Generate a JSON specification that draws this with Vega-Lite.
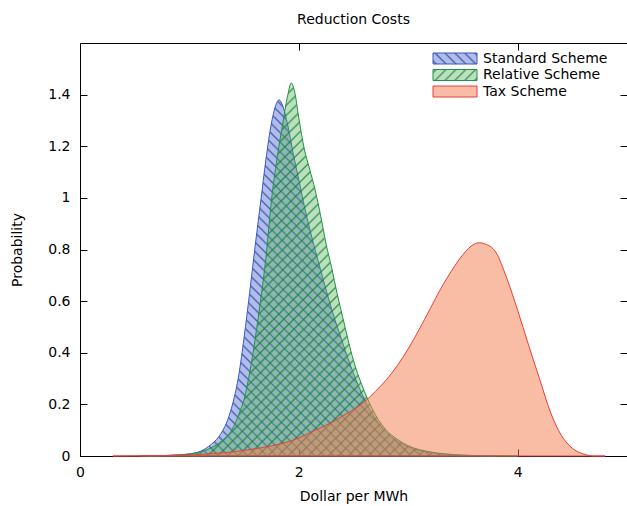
{
 "$schema": "https://vega.github.io/schema/vega-lite/v6.json",
 "width": 547, "height": 413,
 "autosize": {"type": "none"},
 "padding": {"left": 80, "top": 43, "right": 0, "bottom": 50},
 "title": {"text": "Reduction Costs", "fontSize": 14, "fontWeight": "normal", "font": "DejaVu Sans", "color": "black", "anchor": "middle", "frame": "group", "offset": 5, "baseline": "alphabetic"},
 "config": {
  "view": {"stroke": "black", "strokeWidth": 1},
  "axis": {"grid": false, "domain": false, "labelFont": "DejaVu Sans", "labelFontSize": 14, "labelColor": "black", "titleFont": "DejaVu Sans", "titleFontSize": 14, "titleFontWeight": "normal", "titleColor": "black", "tickColor": "black", "tickSize": -7, "tickWidth": 1}
 },
 "datasets": {"curves": [
  {"scheme":"Standard Scheme","x":0.55,"y":0},{"scheme":"Standard Scheme","x":0.7,"y":0.001},{"scheme":"Standard Scheme","x":0.85,"y":0.003},{"scheme":"Standard Scheme","x":1.0,"y":0.008},{"scheme":"Standard Scheme","x":1.1,"y":0.018},{"scheme":"Standard Scheme","x":1.2,"y":0.045},{"scheme":"Standard Scheme","x":1.25,"y":0.065},{"scheme":"Standard Scheme","x":1.3,"y":0.095},{"scheme":"Standard Scheme","x":1.35,"y":0.14},{"scheme":"Standard Scheme","x":1.4,"y":0.21},{"scheme":"Standard Scheme","x":1.45,"y":0.31},{"scheme":"Standard Scheme","x":1.5,"y":0.46},{"scheme":"Standard Scheme","x":1.55,"y":0.63},{"scheme":"Standard Scheme","x":1.6,"y":0.81},{"scheme":"Standard Scheme","x":1.65,"y":0.98},{"scheme":"Standard Scheme","x":1.7,"y":1.15},{"scheme":"Standard Scheme","x":1.75,"y":1.29},{"scheme":"Standard Scheme","x":1.8,"y":1.37},{"scheme":"Standard Scheme","x":1.82,"y":1.38},{"scheme":"Standard Scheme","x":1.85,"y":1.36},{"scheme":"Standard Scheme","x":1.9,"y":1.28},{"scheme":"Standard Scheme","x":1.95,"y":1.17},{"scheme":"Standard Scheme","x":2.0,"y":1.07},{"scheme":"Standard Scheme","x":2.05,"y":0.97},{"scheme":"Standard Scheme","x":2.1,"y":0.88},{"scheme":"Standard Scheme","x":2.2,"y":0.72},{"scheme":"Standard Scheme","x":2.3,"y":0.57},{"scheme":"Standard Scheme","x":2.4,"y":0.44},{"scheme":"Standard Scheme","x":2.5,"y":0.32},{"scheme":"Standard Scheme","x":2.6,"y":0.22},{"scheme":"Standard Scheme","x":2.7,"y":0.145},{"scheme":"Standard Scheme","x":2.8,"y":0.092},{"scheme":"Standard Scheme","x":2.9,"y":0.058},{"scheme":"Standard Scheme","x":3.0,"y":0.036},{"scheme":"Standard Scheme","x":3.2,"y":0.014},{"scheme":"Standard Scheme","x":3.4,"y":0.005},{"scheme":"Standard Scheme","x":3.6,"y":0.0015},{"scheme":"Standard Scheme","x":3.8,"y":0},
  {"scheme":"Relative Scheme","x":0.6,"y":0},{"scheme":"Relative Scheme","x":0.8,"y":0.002},{"scheme":"Relative Scheme","x":0.9,"y":0.004},{"scheme":"Relative Scheme","x":1.0,"y":0.008},{"scheme":"Relative Scheme","x":1.1,"y":0.016},{"scheme":"Relative Scheme","x":1.2,"y":0.032},{"scheme":"Relative Scheme","x":1.3,"y":0.06},{"scheme":"Relative Scheme","x":1.4,"y":0.11},{"scheme":"Relative Scheme","x":1.45,"y":0.16},{"scheme":"Relative Scheme","x":1.5,"y":0.22},{"scheme":"Relative Scheme","x":1.55,"y":0.32},{"scheme":"Relative Scheme","x":1.6,"y":0.45},{"scheme":"Relative Scheme","x":1.65,"y":0.6},{"scheme":"Relative Scheme","x":1.7,"y":0.77},{"scheme":"Relative Scheme","x":1.75,"y":0.99},{"scheme":"Relative Scheme","x":1.8,"y":1.15},{"scheme":"Relative Scheme","x":1.85,"y":1.28},{"scheme":"Relative Scheme","x":1.9,"y":1.4},{"scheme":"Relative Scheme","x":1.93,"y":1.445},{"scheme":"Relative Scheme","x":1.96,"y":1.415},{"scheme":"Relative Scheme","x":2.0,"y":1.31},{"scheme":"Relative Scheme","x":2.05,"y":1.19},{"scheme":"Relative Scheme","x":2.1,"y":1.11},{"scheme":"Relative Scheme","x":2.15,"y":1.03},{"scheme":"Relative Scheme","x":2.2,"y":0.93},{"scheme":"Relative Scheme","x":2.25,"y":0.82},{"scheme":"Relative Scheme","x":2.3,"y":0.73},{"scheme":"Relative Scheme","x":2.35,"y":0.63},{"scheme":"Relative Scheme","x":2.4,"y":0.54},{"scheme":"Relative Scheme","x":2.5,"y":0.37},{"scheme":"Relative Scheme","x":2.6,"y":0.25},{"scheme":"Relative Scheme","x":2.7,"y":0.16},{"scheme":"Relative Scheme","x":2.8,"y":0.1},{"scheme":"Relative Scheme","x":2.9,"y":0.065},{"scheme":"Relative Scheme","x":3.0,"y":0.04},{"scheme":"Relative Scheme","x":3.2,"y":0.016},{"scheme":"Relative Scheme","x":3.4,"y":0.006},{"scheme":"Relative Scheme","x":3.6,"y":0.002},{"scheme":"Relative Scheme","x":3.8,"y":0.0005},{"scheme":"Relative Scheme","x":4.0,"y":0},
  {"scheme":"Tax Scheme","x":0.3,"y":0},{"scheme":"Tax Scheme","x":0.6,"y":0.001},{"scheme":"Tax Scheme","x":0.9,"y":0.003},{"scheme":"Tax Scheme","x":1.1,"y":0.006},{"scheme":"Tax Scheme","x":1.3,"y":0.012},{"scheme":"Tax Scheme","x":1.5,"y":0.022},{"scheme":"Tax Scheme","x":1.7,"y":0.035},{"scheme":"Tax Scheme","x":1.9,"y":0.055},{"scheme":"Tax Scheme","x":2.0,"y":0.07},{"scheme":"Tax Scheme","x":2.1,"y":0.09},{"scheme":"Tax Scheme","x":2.2,"y":0.11},{"scheme":"Tax Scheme","x":2.3,"y":0.13},{"scheme":"Tax Scheme","x":2.4,"y":0.155},{"scheme":"Tax Scheme","x":2.5,"y":0.18},{"scheme":"Tax Scheme","x":2.6,"y":0.21},{"scheme":"Tax Scheme","x":2.7,"y":0.25},{"scheme":"Tax Scheme","x":2.8,"y":0.295},{"scheme":"Tax Scheme","x":2.9,"y":0.35},{"scheme":"Tax Scheme","x":3.0,"y":0.415},{"scheme":"Tax Scheme","x":3.1,"y":0.49},{"scheme":"Tax Scheme","x":3.2,"y":0.57},{"scheme":"Tax Scheme","x":3.3,"y":0.65},{"scheme":"Tax Scheme","x":3.4,"y":0.72},{"scheme":"Tax Scheme","x":3.5,"y":0.78},{"scheme":"Tax Scheme","x":3.6,"y":0.82},{"scheme":"Tax Scheme","x":3.65,"y":0.826},{"scheme":"Tax Scheme","x":3.7,"y":0.822},{"scheme":"Tax Scheme","x":3.8,"y":0.79},{"scheme":"Tax Scheme","x":3.9,"y":0.69},{"scheme":"Tax Scheme","x":4.0,"y":0.565},{"scheme":"Tax Scheme","x":4.1,"y":0.43},{"scheme":"Tax Scheme","x":4.2,"y":0.3},{"scheme":"Tax Scheme","x":4.3,"y":0.17},{"scheme":"Tax Scheme","x":4.4,"y":0.08},{"scheme":"Tax Scheme","x":4.5,"y":0.03},{"scheme":"Tax Scheme","x":4.6,"y":0.008},{"scheme":"Tax Scheme","x":4.7,"y":0},{"scheme":"Tax Scheme","x":4.8,"y":0}
 ]},
 "data": {"name": "curves"},
 "resolve": {"axis": {"x": "independent", "y": "independent"}},
 "layer": [
  {
   "transform": [{"filter": "datum.scheme === 'Standard Scheme'"}],
   "mark": {"type": "area", "interpolate": "monotone", "stroke": "#3a58c0", "strokeWidth": 1,
    "fill": {"gradient": "linear", "x1": 0, "y1": 1, "x2": 1, "y2": 0, "stops": [
{"offset":0,"color":"#3e58c666"},{"offset":0.0028,"color":"#2346aad9"},{"offset":0.0056,"color":"#3e58c666"},
{"offset":0.0135,"color":"#3e58c666"},{"offset":0.0163,"color":"#2346aad9"},{"offset":0.0191,"color":"#3e58c666"},
{"offset":0.027,"color":"#3e58c666"},{"offset":0.0298,"color":"#2346aad9"},{"offset":0.0326,"color":"#3e58c666"},
{"offset":0.0405,"color":"#3e58c666"},{"offset":0.0433,"color":"#2346aad9"},{"offset":0.0461,"color":"#3e58c666"},
{"offset":0.054,"color":"#3e58c666"},{"offset":0.0568,"color":"#2346aad9"},{"offset":0.0596,"color":"#3e58c666"},
{"offset":0.0675,"color":"#3e58c666"},{"offset":0.0703,"color":"#2346aad9"},{"offset":0.0731,"color":"#3e58c666"},
{"offset":0.081,"color":"#3e58c666"},{"offset":0.0838,"color":"#2346aad9"},{"offset":0.0866,"color":"#3e58c666"},
{"offset":0.0945,"color":"#3e58c666"},{"offset":0.0973,"color":"#2346aad9"},{"offset":0.1001,"color":"#3e58c666"},
{"offset":0.108,"color":"#3e58c666"},{"offset":0.1108,"color":"#2346aad9"},{"offset":0.1136,"color":"#3e58c666"},
{"offset":0.1215,"color":"#3e58c666"},{"offset":0.1243,"color":"#2346aad9"},{"offset":0.1271,"color":"#3e58c666"},
{"offset":0.135,"color":"#3e58c666"},{"offset":0.1378,"color":"#2346aad9"},{"offset":0.1406,"color":"#3e58c666"},
{"offset":0.1485,"color":"#3e58c666"},{"offset":0.1513,"color":"#2346aad9"},{"offset":0.1541,"color":"#3e58c666"},
{"offset":0.162,"color":"#3e58c666"},{"offset":0.1648,"color":"#2346aad9"},{"offset":0.1676,"color":"#3e58c666"},
{"offset":0.1755,"color":"#3e58c666"},{"offset":0.1783,"color":"#2346aad9"},{"offset":0.1811,"color":"#3e58c666"},
{"offset":0.189,"color":"#3e58c666"},{"offset":0.1918,"color":"#2346aad9"},{"offset":0.1946,"color":"#3e58c666"},
{"offset":0.2025,"color":"#3e58c666"},{"offset":0.2053,"color":"#2346aad9"},{"offset":0.2081,"color":"#3e58c666"},
{"offset":0.216,"color":"#3e58c666"},{"offset":0.2188,"color":"#2346aad9"},{"offset":0.2216,"color":"#3e58c666"},
{"offset":0.2295,"color":"#3e58c666"},{"offset":0.2323,"color":"#2346aad9"},{"offset":0.2351,"color":"#3e58c666"},
{"offset":0.243,"color":"#3e58c666"},{"offset":0.2458,"color":"#2346aad9"},{"offset":0.2486,"color":"#3e58c666"},
{"offset":0.2565,"color":"#3e58c666"},{"offset":0.2593,"color":"#2346aad9"},{"offset":0.2621,"color":"#3e58c666"},
{"offset":0.27,"color":"#3e58c666"},{"offset":0.2728,"color":"#2346aad9"},{"offset":0.2756,"color":"#3e58c666"},
{"offset":0.2835,"color":"#3e58c666"},{"offset":0.2863,"color":"#2346aad9"},{"offset":0.2891,"color":"#3e58c666"},
{"offset":0.297,"color":"#3e58c666"},{"offset":0.2998,"color":"#2346aad9"},{"offset":0.3026,"color":"#3e58c666"},
{"offset":0.3105,"color":"#3e58c666"},{"offset":0.3133,"color":"#2346aad9"},{"offset":0.3161,"color":"#3e58c666"},
{"offset":0.324,"color":"#3e58c666"},{"offset":0.3268,"color":"#2346aad9"},{"offset":0.3296,"color":"#3e58c666"},
{"offset":0.3375,"color":"#3e58c666"},{"offset":0.3403,"color":"#2346aad9"},{"offset":0.3431,"color":"#3e58c666"},
{"offset":0.351,"color":"#3e58c666"},{"offset":0.3538,"color":"#2346aad9"},{"offset":0.3566,"color":"#3e58c666"},
{"offset":0.3645,"color":"#3e58c666"},{"offset":0.3673,"color":"#2346aad9"},{"offset":0.3701,"color":"#3e58c666"},
{"offset":0.378,"color":"#3e58c666"},{"offset":0.3808,"color":"#2346aad9"},{"offset":0.3836,"color":"#3e58c666"},
{"offset":0.3915,"color":"#3e58c666"},{"offset":0.3943,"color":"#2346aad9"},{"offset":0.3971,"color":"#3e58c666"},
{"offset":0.405,"color":"#3e58c666"},{"offset":0.4078,"color":"#2346aad9"},{"offset":0.4106,"color":"#3e58c666"},
{"offset":0.4185,"color":"#3e58c666"},{"offset":0.4213,"color":"#2346aad9"},{"offset":0.4241,"color":"#3e58c666"},
{"offset":0.432,"color":"#3e58c666"},{"offset":0.4348,"color":"#2346aad9"},{"offset":0.4376,"color":"#3e58c666"},
{"offset":0.4455,"color":"#3e58c666"},{"offset":0.4483,"color":"#2346aad9"},{"offset":0.4511,"color":"#3e58c666"},
{"offset":0.459,"color":"#3e58c666"},{"offset":0.4618,"color":"#2346aad9"},{"offset":0.4646,"color":"#3e58c666"},
{"offset":0.4725,"color":"#3e58c666"},{"offset":0.4753,"color":"#2346aad9"},{"offset":0.4781,"color":"#3e58c666"},
{"offset":0.486,"color":"#3e58c666"},{"offset":0.4888,"color":"#2346aad9"},{"offset":0.4916,"color":"#3e58c666"},
{"offset":0.4995,"color":"#3e58c666"},{"offset":0.5023,"color":"#2346aad9"},{"offset":0.5051,"color":"#3e58c666"},
{"offset":0.513,"color":"#3e58c666"},{"offset":0.5158,"color":"#2346aad9"},{"offset":0.5186,"color":"#3e58c666"},
{"offset":0.5265,"color":"#3e58c666"},{"offset":0.5293,"color":"#2346aad9"},{"offset":0.5321,"color":"#3e58c666"},
{"offset":0.54,"color":"#3e58c666"},{"offset":0.5428,"color":"#2346aad9"},{"offset":0.5456,"color":"#3e58c666"},
{"offset":0.5535,"color":"#3e58c666"},{"offset":0.5563,"color":"#2346aad9"},{"offset":0.5591,"color":"#3e58c666"},
{"offset":0.567,"color":"#3e58c666"},{"offset":0.5698,"color":"#2346aad9"},{"offset":0.5726,"color":"#3e58c666"},
{"offset":0.5805,"color":"#3e58c666"},{"offset":0.5833,"color":"#2346aad9"},{"offset":0.5861,"color":"#3e58c666"},
{"offset":0.594,"color":"#3e58c666"},{"offset":0.5968,"color":"#2346aad9"},{"offset":0.5996,"color":"#3e58c666"},
{"offset":0.6075,"color":"#3e58c666"},{"offset":0.6103,"color":"#2346aad9"},{"offset":0.6131,"color":"#3e58c666"},
{"offset":0.621,"color":"#3e58c666"},{"offset":0.6238,"color":"#2346aad9"},{"offset":0.6266,"color":"#3e58c666"},
{"offset":0.6345,"color":"#3e58c666"},{"offset":0.6373,"color":"#2346aad9"},{"offset":0.6401,"color":"#3e58c666"},
{"offset":0.648,"color":"#3e58c666"},{"offset":0.6508,"color":"#2346aad9"},{"offset":0.6536,"color":"#3e58c666"},
{"offset":0.6615,"color":"#3e58c666"},{"offset":0.6643,"color":"#2346aad9"},{"offset":0.6671,"color":"#3e58c666"},
{"offset":0.675,"color":"#3e58c666"},{"offset":0.6778,"color":"#2346aad9"},{"offset":0.6806,"color":"#3e58c666"},
{"offset":0.6885,"color":"#3e58c666"},{"offset":0.6913,"color":"#2346aad9"},{"offset":0.6941,"color":"#3e58c666"},
{"offset":0.702,"color":"#3e58c666"},{"offset":0.7048,"color":"#2346aad9"},{"offset":0.7076,"color":"#3e58c666"},
{"offset":0.7155,"color":"#3e58c666"},{"offset":0.7183,"color":"#2346aad9"},{"offset":0.7211,"color":"#3e58c666"},
{"offset":0.729,"color":"#3e58c666"},{"offset":0.7318,"color":"#2346aad9"},{"offset":0.7346,"color":"#3e58c666"},
{"offset":0.7425,"color":"#3e58c666"},{"offset":0.7453,"color":"#2346aad9"},{"offset":0.7481,"color":"#3e58c666"},
{"offset":0.756,"color":"#3e58c666"},{"offset":0.7588,"color":"#2346aad9"},{"offset":0.7616,"color":"#3e58c666"},
{"offset":0.7695,"color":"#3e58c666"},{"offset":0.7723,"color":"#2346aad9"},{"offset":0.7751,"color":"#3e58c666"},
{"offset":0.783,"color":"#3e58c666"},{"offset":0.7858,"color":"#2346aad9"},{"offset":0.7886,"color":"#3e58c666"},
{"offset":0.7965,"color":"#3e58c666"},{"offset":0.7993,"color":"#2346aad9"},{"offset":0.8021,"color":"#3e58c666"},
{"offset":0.81,"color":"#3e58c666"},{"offset":0.8128,"color":"#2346aad9"},{"offset":0.8156,"color":"#3e58c666"},
{"offset":0.8235,"color":"#3e58c666"},{"offset":0.8263,"color":"#2346aad9"},{"offset":0.8291,"color":"#3e58c666"},
{"offset":0.837,"color":"#3e58c666"},{"offset":0.8398,"color":"#2346aad9"},{"offset":0.8426,"color":"#3e58c666"},
{"offset":0.8505,"color":"#3e58c666"},{"offset":0.8533,"color":"#2346aad9"},{"offset":0.8561,"color":"#3e58c666"},
{"offset":0.864,"color":"#3e58c666"},{"offset":0.8668,"color":"#2346aad9"},{"offset":0.8696,"color":"#3e58c666"},
{"offset":0.8775,"color":"#3e58c666"},{"offset":0.8803,"color":"#2346aad9"},{"offset":0.8831,"color":"#3e58c666"},
{"offset":0.891,"color":"#3e58c666"},{"offset":0.8938,"color":"#2346aad9"},{"offset":0.8966,"color":"#3e58c666"},
{"offset":0.9045,"color":"#3e58c666"},{"offset":0.9073,"color":"#2346aad9"},{"offset":0.9101,"color":"#3e58c666"},
{"offset":0.918,"color":"#3e58c666"},{"offset":0.9208,"color":"#2346aad9"},{"offset":0.9236,"color":"#3e58c666"},
{"offset":0.9315,"color":"#3e58c666"},{"offset":0.9343,"color":"#2346aad9"},{"offset":0.9371,"color":"#3e58c666"},
{"offset":0.945,"color":"#3e58c666"},{"offset":0.9478,"color":"#2346aad9"},{"offset":0.9506,"color":"#3e58c666"},
{"offset":0.9585,"color":"#3e58c666"},{"offset":0.9613,"color":"#2346aad9"},{"offset":0.9641,"color":"#3e58c666"},
{"offset":0.972,"color":"#3e58c666"},{"offset":0.9748,"color":"#2346aad9"},{"offset":0.9776,"color":"#3e58c666"},
{"offset":0.9855,"color":"#3e58c666"},{"offset":0.9883,"color":"#2346aad9"},{"offset":0.9911,"color":"#3e58c666"},
{"offset":1,"color":"#3e58c666"}
    ]}},
   "encoding": {
    "x": {"field": "x", "type": "quantitative", "scale": {"domain": [0, 5], "nice": false}, "axis": {"orient": "bottom", "values": [0, 2, 4], "format": "~g", "labelFlush": false, "labelPadding": 16, "title": "Dollar per MWh", "titlePadding": 10}},
    "y": {"field": "y", "type": "quantitative", "scale": {"domain": [0, 1.6], "nice": false}, "axis": {"orient": "left", "values": [0, 0.2, 0.4, 0.6, 0.8, 1, 1.2, 1.4], "format": "~g", "labelPadding": 17, "title": "Probability", "titlePadding": 23}}
   }
  },
  {
   "transform": [{"filter": "datum.scheme === 'Relative Scheme'"}],
   "mark": {"type": "area", "interpolate": "monotone", "stroke": "#1f9248", "strokeWidth": 1,
    "fill": {"gradient": "linear", "x1": 0, "y1": 0, "x2": 1, "y2": 1, "stops": [
{"offset":0,"color":"#58b25866"},{"offset":0.0028,"color":"#0f8237d9"},{"offset":0.0056,"color":"#58b25866"},
{"offset":0.0135,"color":"#58b25866"},{"offset":0.0163,"color":"#0f8237d9"},{"offset":0.0191,"color":"#58b25866"},
{"offset":0.027,"color":"#58b25866"},{"offset":0.0298,"color":"#0f8237d9"},{"offset":0.0326,"color":"#58b25866"},
{"offset":0.0405,"color":"#58b25866"},{"offset":0.0433,"color":"#0f8237d9"},{"offset":0.0461,"color":"#58b25866"},
{"offset":0.054,"color":"#58b25866"},{"offset":0.0568,"color":"#0f8237d9"},{"offset":0.0596,"color":"#58b25866"},
{"offset":0.0675,"color":"#58b25866"},{"offset":0.0703,"color":"#0f8237d9"},{"offset":0.0731,"color":"#58b25866"},
{"offset":0.081,"color":"#58b25866"},{"offset":0.0838,"color":"#0f8237d9"},{"offset":0.0866,"color":"#58b25866"},
{"offset":0.0945,"color":"#58b25866"},{"offset":0.0973,"color":"#0f8237d9"},{"offset":0.1001,"color":"#58b25866"},
{"offset":0.108,"color":"#58b25866"},{"offset":0.1108,"color":"#0f8237d9"},{"offset":0.1136,"color":"#58b25866"},
{"offset":0.1215,"color":"#58b25866"},{"offset":0.1243,"color":"#0f8237d9"},{"offset":0.1271,"color":"#58b25866"},
{"offset":0.135,"color":"#58b25866"},{"offset":0.1378,"color":"#0f8237d9"},{"offset":0.1406,"color":"#58b25866"},
{"offset":0.1485,"color":"#58b25866"},{"offset":0.1513,"color":"#0f8237d9"},{"offset":0.1541,"color":"#58b25866"},
{"offset":0.162,"color":"#58b25866"},{"offset":0.1648,"color":"#0f8237d9"},{"offset":0.1676,"color":"#58b25866"},
{"offset":0.1755,"color":"#58b25866"},{"offset":0.1783,"color":"#0f8237d9"},{"offset":0.1811,"color":"#58b25866"},
{"offset":0.189,"color":"#58b25866"},{"offset":0.1918,"color":"#0f8237d9"},{"offset":0.1946,"color":"#58b25866"},
{"offset":0.2025,"color":"#58b25866"},{"offset":0.2053,"color":"#0f8237d9"},{"offset":0.2081,"color":"#58b25866"},
{"offset":0.216,"color":"#58b25866"},{"offset":0.2188,"color":"#0f8237d9"},{"offset":0.2216,"color":"#58b25866"},
{"offset":0.2295,"color":"#58b25866"},{"offset":0.2323,"color":"#0f8237d9"},{"offset":0.2351,"color":"#58b25866"},
{"offset":0.243,"color":"#58b25866"},{"offset":0.2458,"color":"#0f8237d9"},{"offset":0.2486,"color":"#58b25866"},
{"offset":0.2565,"color":"#58b25866"},{"offset":0.2593,"color":"#0f8237d9"},{"offset":0.2621,"color":"#58b25866"},
{"offset":0.27,"color":"#58b25866"},{"offset":0.2728,"color":"#0f8237d9"},{"offset":0.2756,"color":"#58b25866"},
{"offset":0.2835,"color":"#58b25866"},{"offset":0.2863,"color":"#0f8237d9"},{"offset":0.2891,"color":"#58b25866"},
{"offset":0.297,"color":"#58b25866"},{"offset":0.2998,"color":"#0f8237d9"},{"offset":0.3026,"color":"#58b25866"},
{"offset":0.3105,"color":"#58b25866"},{"offset":0.3133,"color":"#0f8237d9"},{"offset":0.3161,"color":"#58b25866"},
{"offset":0.324,"color":"#58b25866"},{"offset":0.3268,"color":"#0f8237d9"},{"offset":0.3296,"color":"#58b25866"},
{"offset":0.3375,"color":"#58b25866"},{"offset":0.3403,"color":"#0f8237d9"},{"offset":0.3431,"color":"#58b25866"},
{"offset":0.351,"color":"#58b25866"},{"offset":0.3538,"color":"#0f8237d9"},{"offset":0.3566,"color":"#58b25866"},
{"offset":0.3645,"color":"#58b25866"},{"offset":0.3673,"color":"#0f8237d9"},{"offset":0.3701,"color":"#58b25866"},
{"offset":0.378,"color":"#58b25866"},{"offset":0.3808,"color":"#0f8237d9"},{"offset":0.3836,"color":"#58b25866"},
{"offset":0.3915,"color":"#58b25866"},{"offset":0.3943,"color":"#0f8237d9"},{"offset":0.3971,"color":"#58b25866"},
{"offset":0.405,"color":"#58b25866"},{"offset":0.4078,"color":"#0f8237d9"},{"offset":0.4106,"color":"#58b25866"},
{"offset":0.4185,"color":"#58b25866"},{"offset":0.4213,"color":"#0f8237d9"},{"offset":0.4241,"color":"#58b25866"},
{"offset":0.432,"color":"#58b25866"},{"offset":0.4348,"color":"#0f8237d9"},{"offset":0.4376,"color":"#58b25866"},
{"offset":0.4455,"color":"#58b25866"},{"offset":0.4483,"color":"#0f8237d9"},{"offset":0.4511,"color":"#58b25866"},
{"offset":0.459,"color":"#58b25866"},{"offset":0.4618,"color":"#0f8237d9"},{"offset":0.4646,"color":"#58b25866"},
{"offset":0.4725,"color":"#58b25866"},{"offset":0.4753,"color":"#0f8237d9"},{"offset":0.4781,"color":"#58b25866"},
{"offset":0.486,"color":"#58b25866"},{"offset":0.4888,"color":"#0f8237d9"},{"offset":0.4916,"color":"#58b25866"},
{"offset":0.4995,"color":"#58b25866"},{"offset":0.5023,"color":"#0f8237d9"},{"offset":0.5051,"color":"#58b25866"},
{"offset":0.513,"color":"#58b25866"},{"offset":0.5158,"color":"#0f8237d9"},{"offset":0.5186,"color":"#58b25866"},
{"offset":0.5265,"color":"#58b25866"},{"offset":0.5293,"color":"#0f8237d9"},{"offset":0.5321,"color":"#58b25866"},
{"offset":0.54,"color":"#58b25866"},{"offset":0.5428,"color":"#0f8237d9"},{"offset":0.5456,"color":"#58b25866"},
{"offset":0.5535,"color":"#58b25866"},{"offset":0.5563,"color":"#0f8237d9"},{"offset":0.5591,"color":"#58b25866"},
{"offset":0.567,"color":"#58b25866"},{"offset":0.5698,"color":"#0f8237d9"},{"offset":0.5726,"color":"#58b25866"},
{"offset":0.5805,"color":"#58b25866"},{"offset":0.5833,"color":"#0f8237d9"},{"offset":0.5861,"color":"#58b25866"},
{"offset":0.594,"color":"#58b25866"},{"offset":0.5968,"color":"#0f8237d9"},{"offset":0.5996,"color":"#58b25866"},
{"offset":0.6075,"color":"#58b25866"},{"offset":0.6103,"color":"#0f8237d9"},{"offset":0.6131,"color":"#58b25866"},
{"offset":0.621,"color":"#58b25866"},{"offset":0.6238,"color":"#0f8237d9"},{"offset":0.6266,"color":"#58b25866"},
{"offset":0.6345,"color":"#58b25866"},{"offset":0.6373,"color":"#0f8237d9"},{"offset":0.6401,"color":"#58b25866"},
{"offset":0.648,"color":"#58b25866"},{"offset":0.6508,"color":"#0f8237d9"},{"offset":0.6536,"color":"#58b25866"},
{"offset":0.6615,"color":"#58b25866"},{"offset":0.6643,"color":"#0f8237d9"},{"offset":0.6671,"color":"#58b25866"},
{"offset":0.675,"color":"#58b25866"},{"offset":0.6778,"color":"#0f8237d9"},{"offset":0.6806,"color":"#58b25866"},
{"offset":0.6885,"color":"#58b25866"},{"offset":0.6913,"color":"#0f8237d9"},{"offset":0.6941,"color":"#58b25866"},
{"offset":0.702,"color":"#58b25866"},{"offset":0.7048,"color":"#0f8237d9"},{"offset":0.7076,"color":"#58b25866"},
{"offset":0.7155,"color":"#58b25866"},{"offset":0.7183,"color":"#0f8237d9"},{"offset":0.7211,"color":"#58b25866"},
{"offset":0.729,"color":"#58b25866"},{"offset":0.7318,"color":"#0f8237d9"},{"offset":0.7346,"color":"#58b25866"},
{"offset":0.7425,"color":"#58b25866"},{"offset":0.7453,"color":"#0f8237d9"},{"offset":0.7481,"color":"#58b25866"},
{"offset":0.756,"color":"#58b25866"},{"offset":0.7588,"color":"#0f8237d9"},{"offset":0.7616,"color":"#58b25866"},
{"offset":0.7695,"color":"#58b25866"},{"offset":0.7723,"color":"#0f8237d9"},{"offset":0.7751,"color":"#58b25866"},
{"offset":0.783,"color":"#58b25866"},{"offset":0.7858,"color":"#0f8237d9"},{"offset":0.7886,"color":"#58b25866"},
{"offset":0.7965,"color":"#58b25866"},{"offset":0.7993,"color":"#0f8237d9"},{"offset":0.8021,"color":"#58b25866"},
{"offset":0.81,"color":"#58b25866"},{"offset":0.8128,"color":"#0f8237d9"},{"offset":0.8156,"color":"#58b25866"},
{"offset":0.8235,"color":"#58b25866"},{"offset":0.8263,"color":"#0f8237d9"},{"offset":0.8291,"color":"#58b25866"},
{"offset":0.837,"color":"#58b25866"},{"offset":0.8398,"color":"#0f8237d9"},{"offset":0.8426,"color":"#58b25866"},
{"offset":0.8505,"color":"#58b25866"},{"offset":0.8533,"color":"#0f8237d9"},{"offset":0.8561,"color":"#58b25866"},
{"offset":0.864,"color":"#58b25866"},{"offset":0.8668,"color":"#0f8237d9"},{"offset":0.8696,"color":"#58b25866"},
{"offset":0.8775,"color":"#58b25866"},{"offset":0.8803,"color":"#0f8237d9"},{"offset":0.8831,"color":"#58b25866"},
{"offset":0.891,"color":"#58b25866"},{"offset":0.8938,"color":"#0f8237d9"},{"offset":0.8966,"color":"#58b25866"},
{"offset":0.9045,"color":"#58b25866"},{"offset":0.9073,"color":"#0f8237d9"},{"offset":0.9101,"color":"#58b25866"},
{"offset":0.918,"color":"#58b25866"},{"offset":0.9208,"color":"#0f8237d9"},{"offset":0.9236,"color":"#58b25866"},
{"offset":0.9315,"color":"#58b25866"},{"offset":0.9343,"color":"#0f8237d9"},{"offset":0.9371,"color":"#58b25866"},
{"offset":0.945,"color":"#58b25866"},{"offset":0.9478,"color":"#0f8237d9"},{"offset":0.9506,"color":"#58b25866"},
{"offset":0.9585,"color":"#58b25866"},{"offset":0.9613,"color":"#0f8237d9"},{"offset":0.9641,"color":"#58b25866"},
{"offset":0.972,"color":"#58b25866"},{"offset":0.9748,"color":"#0f8237d9"},{"offset":0.9776,"color":"#58b25866"},
{"offset":0.9855,"color":"#58b25866"},{"offset":0.9883,"color":"#0f8237d9"},{"offset":0.9911,"color":"#58b25866"},
{"offset":1,"color":"#58b25866"}
    ]}},
   "encoding": {
    "x": {"field": "x", "type": "quantitative", "axis": null},
    "y": {"field": "y", "type": "quantitative", "axis": null}
   }
  },
  {
   "transform": [{"filter": "datum.scheme === 'Tax Scheme'"}],
   "mark": {"type": "area", "interpolate": "monotone", "fill": "#f3794b", "fillOpacity": 0.5, "stroke": "#e8403a", "strokeWidth": 1},
   "encoding": {
    "x": {"field": "x", "type": "quantitative", "axis": null},
    "y": {"field": "y", "type": "quantitative", "axis": null}
   }
  },
  {
   "mark": {"type": "point", "filled": true, "opacity": 0},
   "encoding": {
    "x": {"field": "x", "type": "quantitative", "axis": {"orient": "top", "values": [0, 2, 4], "labels": false, "title": null}},
    "y": {"field": "y", "type": "quantitative", "axis": {"orient": "right", "values": [0, 0.2, 0.4, 0.6, 0.8, 1, 1.2, 1.4], "labels": false, "title": null}},
    "fill": {"field": "scheme", "type": "nominal",
     "scale": {"domain": ["Standard Scheme", "Relative Scheme", "Tax Scheme"], "range": [
      {"expr": "{gradient:'linear',x1:0,y1:1,x2:1.176,y2:0.706,stops:[{offset:0.02,color:'#3e58c666'},{offset:0.057,color:'#2346aad9'},{offset:0.094,color:'#3e58c666'},{offset:0.2,color:'#3e58c666'},{offset:0.237,color:'#2346aad9'},{offset:0.274,color:'#3e58c666'},{offset:0.38,color:'#3e58c666'},{offset:0.417,color:'#2346aad9'},{offset:0.454,color:'#3e58c666'},{offset:0.56,color:'#3e58c666'},{offset:0.597,color:'#2346aad9'},{offset:0.634,color:'#3e58c666'},{offset:0.74,color:'#3e58c666'},{offset:0.777,color:'#2346aad9'},{offset:0.814,color:'#3e58c666'},{offset:0.92,color:'#3e58c666'},{offset:0.957,color:'#2346aad9'},{offset:0.994,color:'#3e58c666'}]}"},
      {"expr": "{gradient:'linear',x1:0,y1:0,x2:1.176,y2:0.294,stops:[{offset:0.02,color:'#58b25866'},{offset:0.057,color:'#0f8237d9'},{offset:0.094,color:'#58b25866'},{offset:0.2,color:'#58b25866'},{offset:0.237,color:'#0f8237d9'},{offset:0.274,color:'#58b25866'},{offset:0.38,color:'#58b25866'},{offset:0.417,color:'#0f8237d9'},{offset:0.454,color:'#58b25866'},{offset:0.56,color:'#58b25866'},{offset:0.597,color:'#0f8237d9'},{offset:0.634,color:'#58b25866'},{offset:0.74,color:'#58b25866'},{offset:0.777,color:'#0f8237d9'},{offset:0.814,color:'#58b25866'},{offset:0.92,color:'#58b25866'},{offset:0.957,color:'#0f8237d9'},{offset:0.994,color:'#58b25866'}]}"},
      "#f8bba5"]},
     "legend": {"title": null, "orient": "none", "legendX": 346, "legendY": 8.5, "symbolType": "M-4,-1H4V1H-4Z", "symbolSize": 121, "symbolStrokeWidth": 1, "symbolOffset": 22, "labelOffset": 21, "labelFont": "DejaVu Sans", "labelFontSize": 14, "labelColor": "black", "rowPadding": 0.5, "padding": 0, "symbolOpacity": 1}},
    "stroke": {"field": "scheme", "type": "nominal",
     "scale": {"domain": ["Standard Scheme", "Relative Scheme", "Tax Scheme"], "range": ["#3a58c0", "#1f9248", "#e8403a"]},
     "legend": {"title": null, "orient": "none", "legendX": 346, "legendY": 8.5, "symbolType": "M-4,-1H4V1H-4Z", "symbolSize": 121, "symbolStrokeWidth": 1, "symbolOffset": 22, "labelOffset": 21, "labelFont": "DejaVu Sans", "labelFontSize": 14, "labelColor": "black", "rowPadding": 0.5, "padding": 0, "symbolOpacity": 1}}
   }
  }
 ]
}
